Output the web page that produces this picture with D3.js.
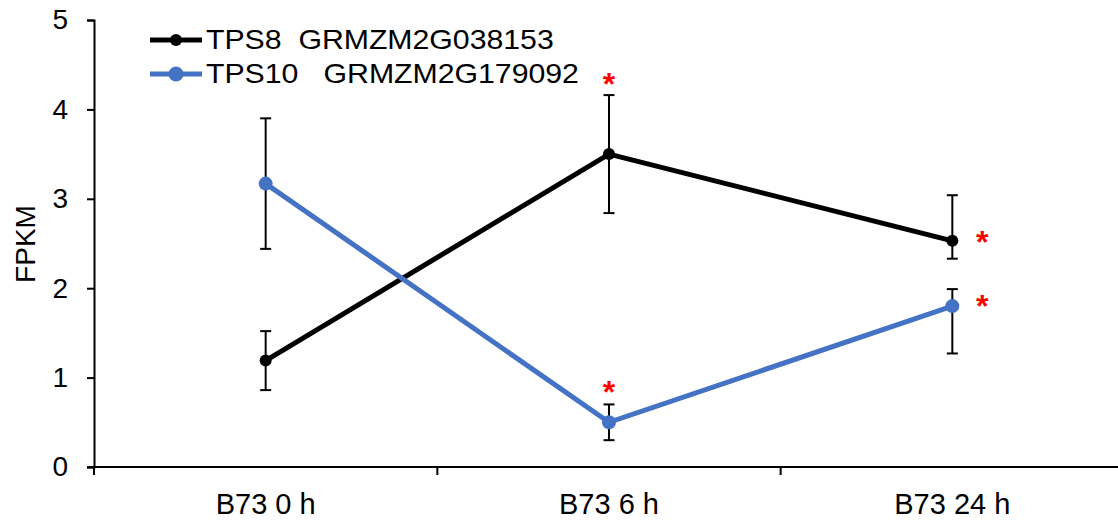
<!DOCTYPE html>
<html>
<head>
<meta charset="utf-8">
<script src="https://cdn.jsdelivr.net/npm/d3@7"></script>
<style>
  body { margin: 0; background: #fff; }
  text { font-family: "Liberation Sans", Arial, sans-serif; }
</style>
</head>
<body>
<div id="chart"></div>
<script>
// data
var categories = ["B73 0 h", "B73 6 h", "B73 24 h"];
var seriesNames = ["TPS8  GRMZM2G038153", "TPS10   GRMZM2G179092"];
var tps8 = [1.19, 3.50, 2.53];
var tps8Up = [0.33, 0.66, 0.51];
var tps8Down = [0.33, 0.66, 0.20];
var tps10 = [3.17, 0.50, 1.80];
var tps10Up = [0.73, 0.20, 0.19];
var tps10Down = [0.73, 0.20, 0.53];
var yTicks = [0, 1, 2, 3, 4, 5];

var svgWidth = 1118, svgHeight = 523;
var margin = {top: 20, right: -6, bottom: 56, left: 94};
var width = svgWidth - margin.left - margin.right;
var height = svgHeight - margin.top - margin.bottom;

var svg = d3.select("#chart").append("svg")
  .attr("width", svgWidth)
  .attr("height", svgHeight);

var g = svg.append("g")
  .attr("transform", `translate(${margin.left}, ${margin.top})`);

var x = d3.scaleBand().domain(categories).range([0, width]);
var y = d3.scaleLinear().domain([0, 5]).range([height, 0]);
var cx = d => x(d) + x.bandwidth() / 2;

// y axis
var yAxis = g.append("g")
  .call(d3.axisLeft(y).tickValues(yTicks).tickFormat(d3.format("d"))
    .tickSize(7).tickPadding(19));
yAxis.select(".domain").attr("stroke", "#000").attr("stroke-width", 2);
yAxis.selectAll(".tick line").attr("stroke-width", 2);
yAxis.selectAll("text").attr("font-size", 28).attr("fill", "#000")
  .attr("font-family", "Liberation Sans, Arial, sans-serif");

// x axis (tick marks at band boundaries)
var xAxis = g.append("g").attr("transform", `translate(0, ${height})`);
xAxis.append("line").attr("x1", -7).attr("x2", width)
  .attr("stroke", "#000").attr("stroke-width", 2);
xAxis.selectAll(".bt").data(categories).enter().append("line")
  .attr("x1", d => x(d)).attr("x2", d => x(d))
  .attr("y1", 0).attr("y2", 8)
  .attr("stroke", "#000").attr("stroke-width", 2);
xAxis.selectAll(".lab").data(categories).enter().append("text")
  .attr("x", d => cx(d)).attr("y", 47)
  .attr("text-anchor", "middle").attr("font-size", 29)
  .text(d => d);

// axis title
g.append("text")
  .attr("transform", "rotate(-90)")
  .attr("x", -(244 - margin.top)).attr("y", -59)
  .attr("text-anchor", "middle").attr("font-size", 28)
  .text("FPKM");

function drawSeries(vals, up, down, color, lw, r) {
  var line = d3.line().x((d, i) => cx(categories[i])).y(d => y(d));
  // error bars
  vals.forEach(function(v, i) {
    var px = cx(categories[i]);
    var eb = g.append("g").attr("stroke", "#000").attr("stroke-width", 2);
    eb.append("line").attr("x1", px).attr("x2", px)
      .attr("y1", y(v + up[i])).attr("y2", y(v - down[i]));
    [v + up[i], v - down[i]].forEach(function(e) {
      eb.append("line").attr("x1", px - 5.5).attr("x2", px + 5.5)
        .attr("y1", y(e)).attr("y2", y(e));
    });
  });
  g.append("path").datum(vals)
    .attr("d", line).attr("fill", "none")
    .attr("stroke", color).attr("stroke-width", lw);
  g.selectAll(null).data(vals).enter().append("circle")
    .attr("cx", (d, i) => cx(categories[i])).attr("cy", d => y(d))
    .attr("r", r).attr("fill", color);
}

drawSeries(tps8, tps8Up, tps8Down, "#000000", 5, 6);
drawSeries(tps10, tps10Up, tps10Down, "#4472C4", 5, 7);

// significance stars
var stars = [
  {cat: 1, v: tps8[1] + tps8Up[1], dx: 0, dy: 0},
  {cat: 1, v: tps10[1] + tps10Up[1], dx: 0, dy: -1},
  {cat: 2, v: tps8[2], dx: 30, dy: 12},
  {cat: 2, v: tps10[2], dx: 30, dy: 11}
];
g.selectAll(".star").data(stars).enter().append("text")
  .attr("x", d => cx(categories[d.cat]) + d.dx)
  .attr("y", d => y(d.v) + d.dy)
  .attr("text-anchor", "middle").attr("font-size", 32)
  .attr("font-weight", "bold")
  .attr("fill", "#FF0000").text("*");

// legend
var legend = svg.append("g").attr("transform", "translate(150, 40)");
[["#000000", 6], ["#4472C4", 7.5]].forEach(function(c, i) {
  var row = legend.append("g").attr("transform", `translate(0, ${i * 34})`);
  row.append("line").attr("x1", 0).attr("x2", 52)
    .attr("stroke", c[0]).attr("stroke-width", 5);
  row.append("circle").attr("cx", 26).attr("r", c[1]).attr("fill", c[0]);
  row.append("text").attr("transform", "translate(56, 9) scale(1.08, 1)")
    .attr("font-size", 28).attr("xml:space", "preserve")
    .style("white-space", "pre")
    .text(seriesNames[i]);
});
</script>
</body>
</html>
